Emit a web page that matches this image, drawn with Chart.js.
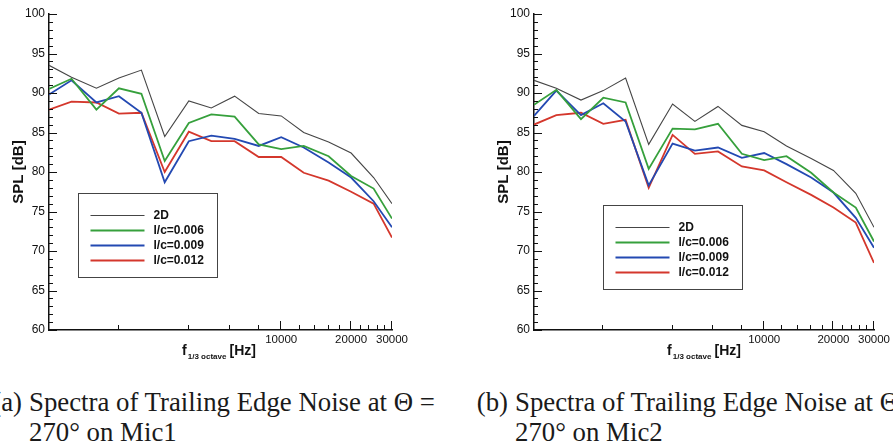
<!DOCTYPE html>
<html>
<head>
<meta charset="utf-8">
<script src="https://cdn.jsdelivr.net/npm/chart.js@4.4.1/dist/chart.umd.min.js"></script>
<style>
  html, body { margin: 0; padding: 0; background: #fff; }
  #page { position: relative; width: 893px; height: 448px; overflow: hidden; background: #fff; }
  .plot { position: absolute; top: 0; }
  .xtitle {
    position: absolute; top: 343px; transform: translateX(-50%);
    font: bold 14px "Liberation Sans", Arial, sans-serif; color: #111;
    white-space: nowrap; line-height: 14px;
  }
  .xtitle sub { font-size: 8px; vertical-align: -4px; margin: 0 3px 0 1px; }
  .caption {
    position: absolute; top: 387px;
    font: 26.8px "Liberation Serif", "Times New Roman", serif; line-height: 30px;
    color: #1a1a1a; white-space: nowrap;
  }
  .caption .tag { position: absolute; right: 100%; top: 0; padding-right: 7px; }
</style>
</head>
<body>
<div id="page">
  <div class="plot" style="left:0px"><canvas id="mic1" width="440" height="360"></canvas></div>
  <div class="plot" style="left:485px"><canvas id="mic2" width="440" height="360"></canvas></div>
  <div class="xtitle" style="left:219px">f<sub>1/3 octave</sub>[Hz]</div>
  <div class="xtitle" style="left:704px">f<sub>1/3 octave</sub>[Hz]</div>
  <div class="caption" style="left:29px"><span class="tag">(a)</span>Spectra of Trailing Edge Noise at Θ =<br>270° on Mic1</div>
  <div class="caption" style="left:515px"><span class="tag">(b)</span>Spectra of Trailing Edge Noise at Θ =<br>270° on Mic2</div>
</div>
<script>
// 1/3-octave band centres (last band sits on the axis end)
const FREQ = [1000, 1250, 1600, 2000, 2500, 3150, 4000, 5000, 6300, 8000, 10000, 12500, 16000, 20000, 25000, 30000];
const SERIES = ["2D", "l/c=0.006", "l/c=0.009", "l/c=0.012"];

// SPL [dB], Mic1
const MIC1_2D   = [93.5, 92.0, 90.6, 91.9, 92.9, 84.5, 89.0, 88.1, 89.6, 87.4, 87.1, 85.0, 83.8, 82.4, 79.3, 76.0];
const MIC1_L006 = [90.5, 91.8, 87.9, 90.6, 89.9, 81.4, 86.2, 87.3, 87.0, 83.5, 82.9, 83.3, 82.0, 79.5, 77.9, 74.1];
const MIC1_L009 = [89.8, 91.6, 88.8, 89.6, 87.5, 78.7, 83.9, 84.6, 84.2, 83.3, 84.4, 83.1, 81.2, 79.3, 76.3, 73.0];
const MIC1_L012 = [87.9, 88.9, 88.8, 87.4, 87.5, 80.0, 85.1, 83.9, 83.9, 81.9, 81.9, 79.9, 78.9, 77.5, 76.0, 71.7];

// SPL [dB], Mic2
const MIC2_2D   = [91.6, 90.6, 89.1, 90.3, 91.9, 83.5, 88.6, 86.4, 88.3, 85.9, 85.1, 83.3, 81.7, 80.2, 77.3, 73.0];
const MIC2_L006 = [88.5, 90.4, 86.7, 89.4, 88.8, 80.4, 85.5, 85.4, 86.1, 82.3, 81.5, 82.0, 79.9, 77.4, 75.5, 71.2];
const MIC2_L009 = [87.1, 90.3, 87.2, 88.7, 86.4, 78.3, 83.6, 82.7, 83.1, 81.8, 82.4, 81.0, 79.3, 77.4, 74.2, 70.4];
const MIC2_L012 = [86.0, 87.2, 87.5, 86.1, 86.6, 78.0, 84.7, 82.3, 82.6, 80.7, 80.2, 78.7, 77.1, 75.5, 73.6, 68.5];

const Y_MIN = 60;
const Y_MAX = 100;
const Y_LABELS = [60, 65, 70, 75, 80, 85, 90, 95, 100];
const X_LABELS = [10000, 20000, 30000];
const X_TICKS = [2000, 4000, 6000, 8000, 10000, 12000, 14000, 16000, 18000, 20000, 22000, 24000, 26000, 28000, 30000];

const LINE_STYLE = [
  { color: "#454545", width: 1.1 },
  { color: "#36a03c", width: 1.8 },
  { color: "#2349b2", width: 1.8 },
  { color: "#d4372c", width: 1.8 }
];
const FONT = "'Liberation Sans', Arial, sans-serif";

// tick marks point into the plot, like the original plotting package
const inwardTicks = {
  id: "inwardTicks",
  afterDatasetsDraw(chart) {
    const { ctx, chartArea, scales } = chart;
    ctx.save();
    ctx.strokeStyle = "#111";
    ctx.lineWidth = 1;
    scales.y.ticks.forEach((t) => {
      const py = Math.round(scales.y.getPixelForValue(t.value)) + 0.5;
      const len = Y_LABELS.includes(t.value) ? 8 : 4;
      ctx.beginPath();
      ctx.moveTo(chartArea.left, py);
      ctx.lineTo(chartArea.left + len, py);
      ctx.stroke();
    });
    scales.x.ticks.forEach((t) => {
      const px = Math.round(scales.x.getPixelForValue(t.value)) - 0.5;
      const len = X_LABELS.includes(t.value) ? 9 : 5;
      ctx.beginPath();
      ctx.moveTo(px, chartArea.bottom);
      ctx.lineTo(px, chartArea.bottom - len);
      ctx.stroke();
    });
    ctx.restore();
  }
};

// framed legend sitting inside the plot area
const boxLegend = {
  id: "boxLegend",
  afterDraw(chart, args, opts) {
    const { ctx, chartArea } = chart;
    const x0 = Math.round(chartArea.left + opts.left) + 0.5;
    const y0 = Math.round(chartArea.top + opts.top) + 0.5;
    ctx.save();
    ctx.fillStyle = "#fff";
    ctx.fillRect(x0, y0, opts.width, opts.height);
    ctx.strokeStyle = "#444";
    ctx.lineWidth = 1;
    ctx.strokeRect(x0, y0, opts.width, opts.height);
    ctx.font = "bold 12px " + FONT;
    ctx.textBaseline = "middle";
    chart.data.datasets.forEach((ds, i) => {
      const y = y0 + opts.firstRow + i * opts.rowGap;
      ctx.strokeStyle = ds.borderColor;
      ctx.lineWidth = ds.borderWidth;
      ctx.beginPath();
      ctx.moveTo(x0 + opts.lineStart, y);
      ctx.lineTo(x0 + opts.lineEnd, y);
      ctx.stroke();
      ctx.fillStyle = "#111";
      ctx.fillText(ds.label, x0 + opts.textX, y + 0.5);
    });
    ctx.restore();
  }
};

function makeChart(canvasId, seriesValues, padRight, legendPos) {
  const datasets = seriesValues.map((values, i) => ({
    label: SERIES[i],
    data: FREQ.map((f, j) => ({ x: f, y: values[j] })),
    borderColor: LINE_STYLE[i].color,
    borderWidth: LINE_STYLE[i].width,
    pointRadius: 0,
    tension: 0,
    fill: false
  }));

  return new Chart(document.getElementById(canvasId), {
    type: "line",
    data: { datasets },
    plugins: [inwardTicks, boxLegend],
    options: {
      responsive: false,
      animation: false,
      layout: { padding: { left: 0, top: 14, right: padRight, bottom: 0 } },
      plugins: {
        legend: { display: false },
        tooltip: { enabled: false },
        boxLegend: {
          left: legendPos.left, top: legendPos.top, width: 139, height: 84,
          firstRow: 22, rowGap: 15, lineStart: 12, lineEnd: 66, textX: 75
        }
      },
      scales: {
        x: {
          type: "logarithmic",
          min: 1000,
          max: 30000,
          grid: { display: false, drawTicks: false },
          border: { display: true, color: "#111", width: 1.5 },
          afterBuildTicks(scale) {
            scale.ticks = X_TICKS.map((v) => ({ value: v }));
          },
          afterFit(scale) {
            scale.height = 30;
          },
          ticks: {
            autoSkip: false,
            maxRotation: 0,
            padding: 3,
            color: "#111",
            font: { family: FONT, size: 11.5 },
            callback(value) {
              return X_LABELS.includes(value) ? String(value) : "";
            }
          }
        },
        y: {
          min: Y_MIN,
          max: Y_MAX,
          grid: { display: false, drawTicks: false },
          border: { display: true, color: "#111", width: 1.5 },
          afterBuildTicks(scale) {
            const ticks = [];
            for (let v = Y_MIN; v <= Y_MAX; v += 1) ticks.push({ value: v });
            scale.ticks = ticks;
          },
          afterFit(scale) {
            scale.width = 49;
          },
          title: {
            display: true,
            text: "SPL [dB]",
            color: "#111",
            font: { family: FONT, size: 15, weight: "bold" },
            padding: { top: 10, bottom: 0 }
          },
          ticks: {
            autoSkip: false,
            padding: 4,
            color: "#111",
            font: { family: FONT, size: 12 },
            callback(value) {
              return Y_LABELS.includes(value) ? String(value) : "";
            }
          }
        }
      }
    }
  });
}

makeChart("mic1", [MIC1_2D, MIC1_L006, MIC1_L009, MIC1_L012], 48, { left: 29, top: 179 });
makeChart("mic2", [MIC2_2D, MIC2_L006, MIC2_L009, MIC2_L012], 51, { left: 69, top: 191 });
</script>
</body>
</html>
